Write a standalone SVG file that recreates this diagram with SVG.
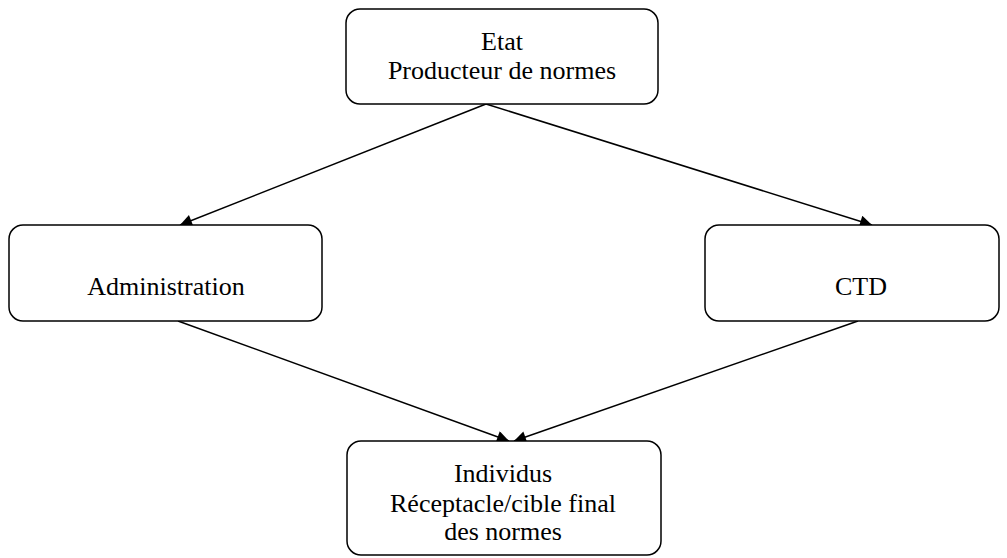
<svg xmlns="http://www.w3.org/2000/svg" width="1007" height="558" viewBox="0 0 1007 558">
<style>
.box{fill:#fff;stroke:#000;stroke-width:1.5}
.t{font-family:"Liberation Serif",serif;font-size:26px;fill:#000;text-anchor:middle}
.c{stroke:#000;stroke-width:1.5;fill:none;marker-end:url(#ah)}
</style>
<defs>
<marker id="ah" viewBox="0 0 10 10" refX="10" refY="5" markerWidth="15" markerHeight="12" markerUnits="userSpaceOnUse" orient="auto">
<path d="M0,0 L10,5 L0,10 z" fill="#000"/>
</marker>
</defs>
<rect width="1007" height="558" fill="#fff"/>
<g id="connectors">
<line class="c" x1="486" y1="104" x2="180" y2="225"/>
<line class="c" x1="486" y1="104" x2="872" y2="225"/>
<line class="c" x1="178" y1="321" x2="509" y2="441"/>
<line class="c" x1="858" y1="321" x2="514" y2="441"/>
</g>
<g id="etat">
<rect class="box" x="346" y="9" width="312" height="95" rx="14"/>
<text class="t" x="502" y="50">Etat</text>
<text class="t" x="502" y="79">Producteur de normes</text>
</g>
<g id="administration">
<rect class="box" x="9" y="225" width="313" height="96" rx="14"/>
<text class="t" x="166" y="295">Administration</text>
</g>
<g id="ctd">
<rect class="box" x="705" y="225" width="294" height="96" rx="14"/>
<text class="t" x="861" y="295">CTD</text>
</g>
<g id="individus">
<rect class="box" x="347" y="441" width="314" height="114" rx="14"/>
<text class="t" x="503" y="482">Individus</text>
<text class="t" x="503" y="512">Réceptacle/cible final</text>
<text class="t" x="503" y="540">des normes</text>
</g>
</svg>
